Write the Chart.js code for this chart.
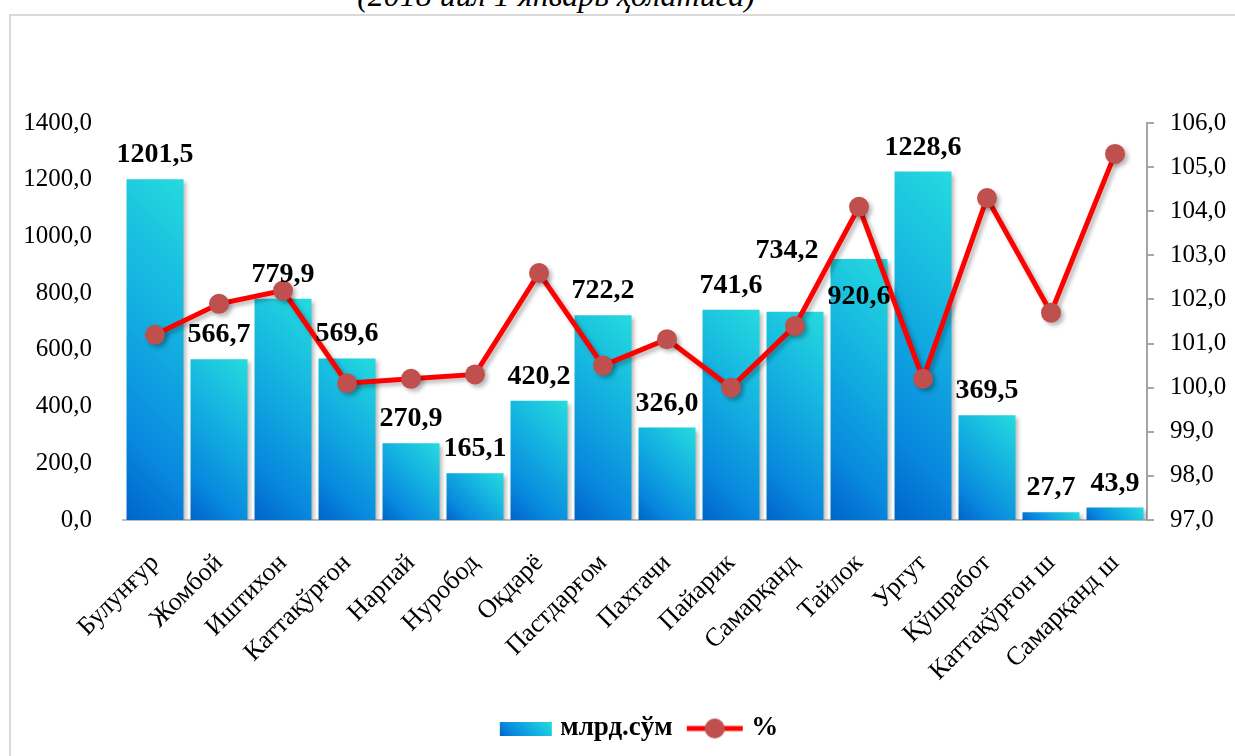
<!DOCTYPE html>
<html>
<head>
<meta charset="utf-8">
<script src="https://cdn.jsdelivr.net/npm/chart.js@4.4.1/dist/chart.umd.min.js"></script>
<style>
  html, body { margin: 0; padding: 0; background: #fff; }
  body { width: 1235px; height: 756px; overflow: hidden; position: relative; }
  #frame { position: absolute; left: 9px; top: 14px; right: -4px; bottom: -4px;
           border-left: 2px solid #d9d9d9; border-top: 2px solid #d9d9d9; }
  #subtitle { position: absolute; left: 0; width: 1112px; top: -21px; text-align: center;
              font: italic 32px "Liberation Serif", "Times New Roman", serif; line-height: 32px;
              color: #000; white-space: nowrap; }
  #wrap { position: absolute; left: 0; top: 0; width: 1235px; height: 756px; }
</style>
</head>
<body>
<div id="frame"></div>
<div id="subtitle">(2018 йил 1 январь ҳолатига)</div>
<div id="wrap"><canvas id="chart" width="1235" height="756"></canvas></div>
<script>
// districts of the region
var districts = ['Булунғур', 'Жомбой', 'Иштихон', 'Каттақўрғон', 'Нарпай', 'Нуробод', 'Оқдарё',
                 'Пастдарғом', 'Пахтачи', 'Пайарик', 'Самарқанд', 'Тайлок', 'Ургут', 'Қўшработ',
                 'Каттақўрғон ш', 'Самарқанд ш'];
// bars: млрд.сўм
var volumeBln = [1201.5, 566.7, 779.9, 569.6, 270.9, 165.1, 420.2, 722.2, 326.0, 741.6, 734.2,
                 920.6, 1228.6, 369.5, 27.7, 43.9];
// line: %
var growthPct = [101.2, 101.9, 102.2, 100.1, 100.2, 100.3, 102.6, 100.5, 101.1, 100.0, 101.4,
                 104.1, 100.2, 104.3, 101.7, 105.3];
// axis ticks
var leftTicks = [0, 200, 400, 600, 800, 1000, 1200, 1400];
var rightTicks = [97, 98, 99, 100, 101, 102, 103, 104, 105, 106];

var serif = '"Liberation Serif", "Times New Roman", serif';
var barPct = 0.89;

function commaFmt(v) {
  return Number(v).toFixed(1).replace('.', ',');
}

function makeGradient(g, x0, y0, x1, y1) {
  var gr = g.createLinearGradient(x0, y0, x1, y1);
  gr.addColorStop(0, '#0064ca');
  gr.addColorStop(0.22, '#0888de');
  gr.addColorStop(0.6, '#14b2e0');
  gr.addColorStop(1, '#25dbde');
  return gr;
}

// 45 degree gradient over a box, dark in the bottom-left corner
function diagGradient(g, left, top, right, bottom) {
  var cx = (left + right) / 2, cy = (top + bottom) / 2;
  var k = ((right - left) + (bottom - top)) / 4;
  return makeGradient(g, cx - k, cy + k, cx + k, cy - k);
}

function barColor(c) {
  var chart = c.chart;
  if (!chart.chartArea || c.dataIndex === undefined) return '#0a8fe0';
  var xs = chart.scales.x, ys = chart.scales.y;
  var cx = xs.getPixelForValue(c.dataIndex);
  var half = xs.width / districts.length * barPct / 2;
  return diagGradient(chart.ctx, cx - half, ys.getPixelForValue(c.raw), cx + half, ys.getPixelForValue(0));
}

// legend icons
function barIcon() {
  var c = document.createElement('canvas');
  c.width = 75; c.height = 14;
  var g = c.getContext('2d');
  g.fillStyle = diagGradient(g, 18, 0, 70, 14);
  g.fillRect(18, 0, 52, 14);
  return c;
}
function lineIcon() {
  var c = document.createElement('canvas');
  c.width = 75; c.height = 24;
  var g = c.getContext('2d');
  g.strokeStyle = '#ff0000'; g.lineWidth = 5;
  g.beginPath(); g.moveTo(14, 12); g.lineTo(70, 12); g.stroke();
  g.fillStyle = '#c0504d';
  g.beginPath(); g.arc(42, 12, 10, 0, Math.PI * 2); g.fill();
  return c;
}

// soft shadow behind bars and line
var shadowPlugin = {
  id: 'softShadow',
  beforeDatasetDraw: function(chart) {
    var g = chart.ctx;
    g.save();
    g.shadowColor = 'rgba(0,0,0,0.28)';
    g.shadowBlur = 4;
    g.shadowOffsetX = 3;
    g.shadowOffsetY = 3;
  },
  afterDatasetDraw: function(chart) {
    chart.ctx.restore();
  }
};

// value labels above bars
var labelNudge = { 10: [-8, -37], 11: [0, 62] };
var barLabels = {
  id: 'barLabels',
  afterDatasetsDraw: function(chart) {
    var g = chart.ctx;
    var meta = chart.getDatasetMeta(0);
    g.save();
    g.font = 'bold 28px ' + serif;
    g.fillStyle = '#000';
    g.textAlign = 'center';
    g.textBaseline = 'alphabetic';
    meta.data.forEach(function(bar, i) {
      var n = labelNudge[i] || [0, 0];
      g.fillText(commaFmt(volumeBln[i]), bar.x + n[0], bar.y - 17 + n[1]);
    });
    g.restore();
  }
};

var ctx = document.getElementById('chart').getContext('2d');
var chart = new Chart(ctx, {
  type: 'bar',
  data: {
    labels: districts,
    datasets: [{
      type: 'bar',
      label: 'млрд.сўм',
      data: volumeBln,
      yAxisID: 'y',
      backgroundColor: barColor,
      borderWidth: 0,
      barPercentage: barPct,
      categoryPercentage: 1,
      order: 2
    }, {
      type: 'line',
      label: '%',
      data: growthPct,
      yAxisID: 'y1',
      borderColor: '#ff0000',
      borderWidth: 5,
      pointRadius: 10,
      pointHoverRadius: 10,
      pointBackgroundColor: '#c0504d',
      pointBorderWidth: 0,
      tension: 0,
      order: 1
    }]
  },
  options: {
    responsive: false,
    animation: false,
    layout: { padding: { top: 123, left: 0, right: 0, bottom: 4 } },
    plugins: {
      tooltip: { enabled: false },
      legend: {
        position: 'bottom',
        fullSize: false,
        labels: {
          usePointStyle: true,
          pointStyleWidth: 55,
          padding: 10,
          color: '#000',
          font: { family: serif, size: 27, weight: 'bold' },
          generateLabels: function() {
            return [
              { text: 'млрд.сўм', pointStyle: barIcon(), datasetIndex: 0, hidden: false, lineWidth: 0 },
              { text: '%', pointStyle: lineIcon(), datasetIndex: 1, hidden: false, lineWidth: 0 }
            ];
          }
        }
      }
    },
    scales: {
      x: {
        afterFit: function(s) { s.height = 185; },
        grid: { display: false },
        border: { display: true, color: '#bfbfbf', width: 2 },
        ticks: {
          autoSkip: false, maxRotation: 45, minRotation: 45, padding: 20,
          color: '#000', font: { family: serif, size: 26 }
        }
      },
      y: {
        position: 'left',
        min: leftTicks[0],
        max: leftTicks[leftTicks.length - 1],
        afterFit: function(s) { s.width = 123; },
        afterBuildTicks: function(s) { s.ticks = leftTicks.map(function(v) { return { value: v }; }); },
        grid: { display: false },
        border: { display: false },
        ticks: {
          padding: 23, color: '#000', font: { family: serif, size: 25 },
          callback: function(v) { return commaFmt(v); }
        }
      },
      y1: {
        position: 'right',
        min: rightTicks[0],
        max: rightTicks[rightTicks.length - 1],
        afterFit: function(s) { s.width = 88; },
        afterBuildTicks: function(s) { s.ticks = rightTicks.map(function(v) { return { value: v }; }); },
        grid: { display: true, drawOnChartArea: false, drawTicks: true, tickLength: 7, color: '#a6a6a6', lineWidth: 2 },
        border: { display: true, color: '#a6a6a6', width: 2 },
        ticks: {
          padding: 16, color: '#000', font: { family: serif, size: 25 },
          callback: function(v) { return commaFmt(v); }
        }
      }
    }
  },
  plugins: [shadowPlugin, barLabels]
});
</script>
</body>
</html>
